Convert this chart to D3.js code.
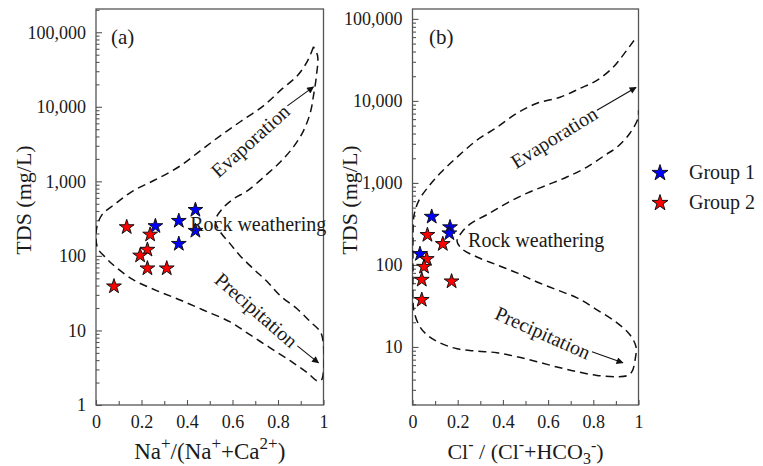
<!DOCTYPE html>
<html>
<head>
<meta charset="utf-8">
<script src="https://cdn.jsdelivr.net/npm/d3@7"></script>
<style>
  body { margin: 0; background: #fff; }
  svg { display: block; }
  text { font-family: "Liberation Serif", "Times New Roman", serif; fill: #1a1a1a; }
</style>
</head>
<body>
<svg id="chart" width="763" height="466"></svg>
<script>
// ---- groups ----
const groupNames = ["Group 1", "Group 2"];
const groupColors = ["#0000ff", "#ff0000"];

// ---- panel (a): Na+/(Na+ + Ca2+) against TDS (mg/L) ----
const naRatioG1 = [0.261, 0.364, 0.437, 0.437, 0.364];
const tdsNaG1   = [251, 295, 414, 217, 145];
const naRatioG2 = [0.135, 0.238, 0.226, 0.194, 0.226, 0.311, 0.079];
const tdsNaG2   = [243, 193, 121, 101, 68, 68, 39];

// ---- panel (b): Cl-/(Cl- + HCO3-) against TDS (mg/L) ----
const clRatioG1 = [0.085, 0.166, 0.163, 0.033];
const tdsClG1   = [387, 288, 243, 136];
const clRatioG2 = [0.066, 0.134, 0.063, 0.051, 0.041, 0.173, 0.041];
const tdsClG2   = [232, 180, 118, 95, 66, 63, 37.5];

// ---- Gibbs boundary envelopes, [ratio, TDS] ----
const gibbsCationEnvelope = [
  [0.956, 63800], [0.930, 41400], [0.885, 26100], [0.819, 17500], [0.736, 10300],
  [0.634, 6300], [0.546, 4080], [0.458, 2570], [0.370, 1610], [0.269, 1080],
  [0.163, 745], [0.084, 499], [0.026, 355], [0.004, 245], [0.0, 169],
  [0.009, 124], [0.044, 94], [0.075, 76], [0.163, 48], [0.269, 34],
  [0.370, 25.6], [0.471, 18.8], [0.590, 13.0], [0.678, 8.7], [0.767, 5.8],
  [0.855, 3.9], [0.930, 2.69], [0.974, 2.10], [0.991, 2.17], [1.0, 2.86],
  [1.0, 6.2], [0.987, 9.5], [0.943, 13.0], [0.885, 19.4], [0.811, 29],
  [0.753, 45], [0.692, 67], [0.634, 100], [0.590, 145], [0.546, 210],
  [0.524, 295], [0.555, 428], [0.604, 582], [0.665, 745], [0.744, 1190],
  [0.811, 1830], [0.868, 2900], [0.912, 4760], [0.943, 8570], [0.956, 14100],
  [0.969, 26100], [0.974, 48400], [0.956, 63800]
];
const gibbsAnionEnvelope = [
  [0.980, 54600], [0.931, 35900], [0.887, 25600], [0.816, 17800], [0.741, 14200],
  [0.653, 11100], [0.551, 9350], [0.462, 7070], [0.374, 4770], [0.285, 3320],
  [0.197, 2060], [0.122, 1310], [0.069, 889], [0.029, 618], [0.007, 406],
  [0.002, 201], [0.002, 87], [0.002, 37.5], [0.007, 26.8], [0.033, 17.6],
  [0.069, 13.7], [0.122, 11.2], [0.197, 9.5], [0.285, 8.9], [0.374, 8.5],
  [0.462, 7.6], [0.551, 6.6], [0.639, 5.7], [0.728, 4.99], [0.816, 4.5],
  [0.905, 4.34], [0.949, 4.47], [0.971, 5.0], [0.985, 7.0], [0.989, 10.0],
  [0.962, 14.1], [0.905, 19.7], [0.816, 28.4], [0.728, 39.7], [0.639, 49.7],
  [0.551, 62], [0.462, 80], [0.374, 100], [0.285, 125], [0.219, 157],
  [0.197, 196], [0.219, 252], [0.254, 315], [0.343, 430], [0.418, 568],
  [0.507, 751], [0.595, 940], [0.683, 1180], [0.772, 1560], [0.852, 2180],
  [0.905, 2730], [0.962, 4040], [0.998, 6140], [1.0, 7700]
];

// ---- axis ticks ----
const xTickValues = [0, 0.2, 0.4, 0.6, 0.8, 1];
const xMinorValues = [0.1, 0.3, 0.5, 0.7, 0.9];
const yTickValues = [1, 10, 100, 1000, 10000, 100000];

const svg = d3.select("#chart");
const defs = svg.append("defs");
defs.append("marker")
  .attr("id", "arrowHead")
  .attr("viewBox", "0 0 10 10")
  .attr("refX", 9).attr("refY", 5)
  .attr("markerWidth", 9).attr("markerHeight", 7)
  .attr("markerUnits", "userSpaceOnUse")
  .attr("orient", "auto")
  .append("path").attr("d", "M0,0 L10,5 L0,10 Z").attr("fill", "#111");

const star = d3.symbol().type(d3.symbolStar).size(68);

function drawPanel(cfg) {
  const x = d3.scaleLinear().domain([0, 1]).range([cfg.left, cfg.right]);
  const y = d3.scaleLog().domain(cfg.yDomain).range([cfg.bottom, cfg.top]);
  const g = svg.append("g");

  const clipId = "clip-" + cfg.key;
  defs.append("clipPath").attr("id", clipId)
    .append("rect")
    .attr("x", cfg.left).attr("y", cfg.top)
    .attr("width", cfg.right - cfg.left).attr("height", cfg.bottom - cfg.top);

  // minor log ticks
  const [y0, y1] = cfg.yDomain;
  const yMinor = [];
  for (let e = 0; e <= 5; e++) {
    for (let k = 2; k <= 9; k++) {
      const v = k * Math.pow(10, e);
      if (v >= y0 && v <= y1) yMinor.push(v);
    }
  }
  const yMajor = yTickValues.filter(v => v >= y0 && v <= y1);

  const yAxis = g.append("g").attr("transform", `translate(${cfg.left},0)`)
    .call(d3.axisLeft(y).tickValues(yMajor).tickSize(-6).tickPadding(10)
      .tickFormat(d3.format(",")));
  const yAxisMinor = g.append("g").attr("transform", `translate(${cfg.left},0)`)
    .call(d3.axisLeft(y).tickValues(yMinor).tickSize(-3.5).tickFormat(""));
  const xAxis = g.append("g").attr("transform", `translate(0,${cfg.bottom})`)
    .call(d3.axisBottom(x).tickValues(xTickValues).tickSize(-5).tickPadding(10)
      .tickFormat(d => String(d)));
  const xAxisMinor = g.append("g").attr("transform", `translate(0,${cfg.bottom})`)
    .call(d3.axisBottom(x).tickValues(xMinorValues).tickSize(-4).tickFormat(""));

  [yAxis, yAxisMinor, xAxis, xAxisMinor].forEach(a => {
    a.select(".domain").remove();
    a.selectAll("line").attr("stroke", "#555").attr("stroke-width", 1.1);
    a.selectAll("text").attr("font-size", 18)
      .attr("font-family", "'Liberation Serif', 'Times New Roman', serif")
      .attr("fill", "#1a1a1a");
  });

  // frame
  g.append("rect")
    .attr("x", cfg.left).attr("y", cfg.top)
    .attr("width", cfg.right - cfg.left).attr("height", cfg.bottom - cfg.top)
    .attr("fill", "none").attr("stroke", "#555").attr("stroke-width", 1.3);

  // Gibbs envelope
  const line = d3.line().x(d => x(d[0])).y(d => y(d[1])).curve(d3.curveCatmullRom.alpha(0.5));
  g.append("path")
    .attr("clip-path", `url(#${clipId})`)
    .attr("d", line(cfg.envelope))
    .attr("fill", "none").attr("stroke", "#111")
    .attr("stroke-width", 1.5).attr("stroke-dasharray", "8,5");

  // trend arrows
  cfg.arrows.forEach(a => {
    g.append("line")
      .attr("x1", x(a[0][0])).attr("y1", y(a[0][1]))
      .attr("x2", x(a[1][0])).attr("y2", y(a[1][1]))
      .attr("stroke", "#111").attr("stroke-width", 1.1)
      .attr("marker-end", "url(#arrowHead)");
  });

  // samples
  cfg.series.forEach((s, i) => {
    g.append("g").selectAll("path")
      .data(s.xs.map((v, j) => [v, s.ys[j]]))
      .join("path")
      .attr("d", star)
      .attr("transform", d => `translate(${x(d[0])},${y(d[1])})`)
      .attr("fill", groupColors[i]).attr("stroke", "#111").attr("stroke-width", 1);
  });

  // process labels
  cfg.labels.forEach(l => {
    const px = x(l.at[0]), py = y(l.at[1]);
    g.append("text")
      .attr("transform", `translate(${px},${py}) rotate(${l.angle})`)
      .attr("text-anchor", l.anchor).attr("dominant-baseline", l.baseline)
      .attr("font-size", 20)
      .text(l.text);
  });

  // panel tag
  g.append("text").attr("x", cfg.tag[0]).attr("y", cfg.tag[1])
    .attr("font-size", 21).text(cfg.tagText);

  // y title
  g.append("text")
    .attr("transform", `translate(${cfg.yTitleX},200) rotate(-90)`)
    .attr("text-anchor", "middle").attr("font-size", 22)
    .text("TDS (mg/L)");

  // x title
  const xt = g.append("text")
    .attr("x", (cfg.left + cfg.right) / 2).attr("y", 459)
    .attr("text-anchor", "middle").attr("font-size", cfg.xTitleSize);
  cfg.xTitle.forEach(p => {
    const t = xt.append("tspan").text(p.t);
    if (p.s) t.attr("font-size", cfg.xTitleSize - 6);
    if (p.dy) t.attr("dy", p.dy);
  });
}

drawPanel({
  key: "a", left: 96, right: 323.5, top: 9, bottom: 405,
  yDomain: [1, 205000],
  envelope: gibbsCationEnvelope,
  series: [{ xs: naRatioG1, ys: tdsNaG1 }, { xs: naRatioG2, ys: tdsNaG2 }],
  arrows: [[[0.841, 10300], [0.956, 18500]], [[0.885, 6.2], [0.978, 3.67]]],
  labels: [
    { text: "Evaporation", at: [0.678, 3500], angle: -42, anchor: "middle", baseline: "central" },
    { text: "Precipitation", at: [0.705, 18.8], angle: 41, anchor: "middle", baseline: "central" },
    { text: "Rock weathering", at: [0.414, 217], angle: 0, anchor: "start", baseline: "alphabetic" }
  ],
  tag: [111, 44], tagText: "(a)",
  yTitleX: 31,
  xTitleSize: 23,
  xTitle: [
    { t: "Na" }, { t: "+", s: true, dy: -10 }, { t: "/(Na", dy: 10 },
    { t: "+", s: true, dy: -10 }, { t: "+Ca", dy: 10 }, { t: "2+", s: true, dy: -10 },
    { t: ")", dy: 10 }
  ]
});

drawPanel({
  key: "b", left: 412.5, right: 638.5, top: 9, bottom: 405,
  yDomain: [1.96, 132000],
  envelope: gibbsAnionEnvelope,
  series: [{ xs: clRatioG1, ys: tdsClG1 }, { xs: clRatioG2, ys: tdsClG2 }],
  arrows: [[[0.816, 7700], [0.989, 14600]], [[0.794, 8.75], [0.931, 6.4]]],
  labels: [
    { text: "Evaporation", at: [0.626, 3600], angle: -32, anchor: "middle", baseline: "central" },
    { text: "Precipitation", at: [0.577, 14.9], angle: 24, anchor: "middle", baseline: "central" },
    { text: "Rock weathering", at: [0.246, 166], angle: 0, anchor: "start", baseline: "alphabetic" }
  ],
  tag: [429, 44], tagText: "(b)",
  yTitleX: 357,
  xTitleSize: 22,
  xTitle: [
    { t: "Cl" }, { t: "-", s: true, dy: -9 }, { t: " / (Cl", dy: 9 },
    { t: "-", s: true, dy: -9 }, { t: "+HCO", dy: 9 }, { t: "3", s: true, dy: 5 },
    { t: "-", s: true, dy: -13 }, { t: ")", dy: 8 }
  ]
});

// legend
const legend = svg.append("g");
groupNames.forEach((name, i) => {
  const yy = 173 + i * 30;
  legend.append("path").attr("d", d3.symbol().type(d3.symbolStar).size(80)())
    .attr("transform", `translate(660,${yy})`)
    .attr("fill", groupColors[i]).attr("stroke", "#111").attr("stroke-width", 1);
  legend.append("text").attr("x", 689).attr("y", yy + 6)
    .attr("font-size", 20).text(name);
});
</script>
</body>
</html>
